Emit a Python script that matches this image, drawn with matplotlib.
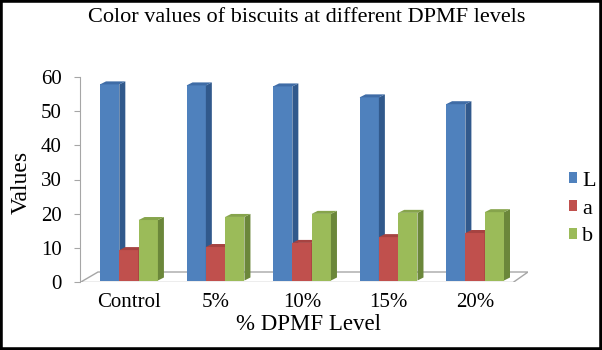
import numpy as np
import matplotlib.pyplot as plt
from matplotlib.patches import Polygon, Rectangle, Patch

# Data
categories = ['Control', '5%', '10%', '15%', '20%']
series = ['L', 'a', 'b']
L_vals = [57.4, 57.1, 56.8, 53.6, 51.6]
a_vals = [8.9, 9.8, 11.0, 12.7, 13.9]
b_vals = [17.7, 18.6, 19.5, 19.8, 20.0]
y_ticks = [0, 10, 20, 30, 40, 50, 60]

front = ['#4f81bd', '#c0504d', '#9bbb59']
side = ['#31598c', '#8b3533', '#6b873a']
top = ['#3f6ca6', '#a64341', '#86a44c']

plt.rcParams['font.family'] = 'Liberation Serif'

W, H = 602, 350
fig = plt.figure(figsize=(W / 100, H / 100), dpi=100)

# axes box in pixels
ax_l, ax_t, ax_r, ax_b = 80, 77, 528, 282
ax = fig.add_axes([ax_l / W, 1 - ax_b / H, (ax_r - ax_l) / W, (ax_b - ax_t) / H])
x0, x1 = -0.566, 4.612
ax.set_xlim(x0, x1)
ax.set_ylim(0, 60)
px_x = (x1 - x0) / (ax_r - ax_l)   # data units per pixel
px_y = 60 / (ax_b - ax_t)

def to_data(px, py):
    return (x0 + (px - ax_l) * px_x, (ax_b - py) * px_y)

# floor of the 3d box
floor = Polygon([to_data(80, 282.5), to_data(513, 282.5), to_data(528, 272), to_data(98, 272)],
                closed=True, facecolor='white', edgecolor='#a6a6a6', lw=1.0, zorder=1)
ax.add_patch(floor)

# bars
bw = 19.3 * px_x
dx, dy = 6 * px_x, 3 * px_y
base = 1.5 * px_y
xs = np.arange(len(categories))
for s, vals in enumerate([L_vals, a_vals, b_vals]):
    pos = xs + (s - 1) * bw
    ax.bar(pos, vals, bw, bottom=base, color=front[s], lw=0, zorder=2 + s * 3)
    for xc, v in zip(pos, vals):
        xr = xc + bw / 2
        xl = xc - bw / 2
        yt = base + v
        ax.add_patch(Polygon([(xr, base), (xr + dx, base + dy), (xr + dx, yt + dy), (xr, yt)],
                             facecolor=side[s], lw=0, zorder=3 + s * 3))
        ax.add_patch(Polygon([(xl, yt), (xr, yt), (xr + dx, yt + dy), (xl + dx, yt + dy)],
                             facecolor=top[s], lw=0, zorder=4 + s * 3))

for sp in ['top', 'right', 'bottom']:
    ax.spines[sp].set_visible(False)
ax.spines['left'].set_color('#a6a6a6')
ax.set_yticks(y_ticks)
ax.tick_params(axis='y', length=4, color='#a6a6a6', labelsize=15, pad=9)
ax.set_xticks(xs)
ax.set_xticklabels(categories)
ax.tick_params(axis='x', length=0, labelsize=15, pad=8)

fig.text(307 / W, 1 - 17 / H, 'Color values of biscuits at different DPMF levels',
         ha='center', va='center', fontsize=16)
fig.text(308 / W, 1 - 325 / H, '% DPMF Level', ha='center', va='center', fontsize=16.5)
fig.text(21 / W, 1 - 182 / H, 'Values', ha='center', va='center', rotation=90, fontsize=17)

handles = [Patch(facecolor=front[i], label=series[i]) for i in range(3)]
fig.legend(handles=handles, loc='center left', bbox_to_anchor=(569 / W, 1 - 209 / H),
           frameon=False, fontsize=16, handlelength=0.38, handleheight=0.38,
           handletextpad=0.2, labelspacing=0.4, borderaxespad=0, borderpad=0)

# black frame
fig.patches.append(Rectangle((0, 0), 1, 1, transform=fig.transFigure, fill=False,
                             edgecolor='black', lw=4))

fig.savefig('out.png', dpi=100)
